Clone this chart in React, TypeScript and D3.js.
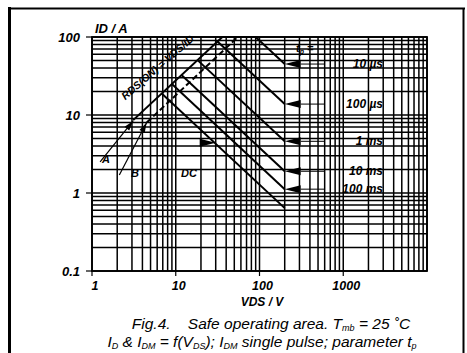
import React from "react";
import * as d3 from "d3";

const vdsTicks = [1, 10, 100, 1000];
const idTicks = [0.1, 1, 10, 100];
const pulseLabels = ["10 µs", "100 µs", "1 ms", "10 ms", "100 ms"];
const pulseIdEnd = [45, 13.8, 4.6, 1.9, 1.12];
const vdsMax = 200;
// curves as [VDS, ID] points
const rdsLineA = [[3.1, 8.6], [36, 100]];
const rdsLineB = [[4.5, 8.0], [55, 100]];
const curve10us = [[36, 100], [90, 100], [200, 45]];
const curve100us = [[31.5, 87.6], [200, 13.8]];
const curve1ms = [[18.2, 50.5], [200, 4.6]];
const curve10ms = [[11.7, 32.5], [200, 1.9]];
const curve100ms = [[9, 24.9], [200, 1.12]];
const curveDC = [[6.8, 18.9], [200, 0.64]];
const dcArrowPoint = [30, 4.4];
const pointerA = [[1.25, 2.5], [3.1, 8.4]];
const pointerB = [[2.12, 1.7], [4.5, 8.0]];

const FONT = "'Liberation Sans', Arial, sans-serif";

export default function App() {
  const x = d3.scaleLog().domain([1, 10000]).range([92, 427]);
  const y = d3.scaleLog().domain([0.1, 100]).range([271, 37]);
  const line = d3
    .line<number[]>()
    .x((d) => x(d[0]))
    .y((d) => y(d[1]));
  const xGrid = x.ticks();
  const yGrid = y.ticks();
  const curves = [curve10us, curve100us, curve1ms, curve10ms, curve100ms, curveDC];
  const xEnd = x(vdsMax);

  const arrowHead = (tx: number, ty: number, dir: number, len = 16, half = 4) =>
    `M${tx},${ty}L${tx + dir * len},${ty - half}L${tx + dir * len},${ty + half}Z`;

  const ptrHead = (p: number[][]) => {
    const [a, b] = p;
    const x1 = x(a[0]), y1 = y(a[1]), x2 = x(b[0]), y2 = y(b[1]);
    const ang = Math.atan2(y2 - y1, x2 - x1);
    const L = 10, hw = 3;
    const bx = x2 - L * Math.cos(ang), by = y2 - L * Math.sin(ang);
    const nx = -Math.sin(ang) * hw, ny = Math.cos(ang) * hw;
    return `M${x2},${y2}L${bx + nx},${by + ny}L${bx - nx},${by - ny}Z`;
  };

  return (
    <svg
      width={467}
      height={353}
      style={{ position: "absolute", left: 0, top: 0, background: "#fff" }}
      fontFamily={FONT}
    >
      <rect x={0} y={0} width={467} height={353} fill="#fff" />
      {/* outer frame */}
      <line x1={9.5} y1={7} x2={9.5} y2={353} stroke="#000" strokeWidth={3} />
      <line x1={8} y1={8.5} x2={465} y2={8.5} stroke="#000" strokeWidth={2} />
      <line x1={463.5} y1={8} x2={463.5} y2={353} stroke="#000" strokeWidth={2} />

      {/* grid */}
      {xGrid.map((v, i) => (
        <line key={"gx" + i} x1={x(v)} x2={x(v)} y1={37} y2={271} stroke="#000" strokeWidth={1.5} />
      ))}
      {yGrid.map((v, i) => (
        <line key={"gy" + i} x1={92} x2={427} y1={y(v)} y2={y(v)} stroke="#000" strokeWidth={1.5} />
      ))}
      <rect x={92} y={37} width={335} height={234} fill="none" stroke="#000" strokeWidth={1.8} />

      {/* ticks */}
      {idTicks.map((v, i) => (
        <g key={"yt" + i}>
          <line x1={86} x2={92} y1={y(v)} y2={y(v)} stroke="#000" strokeWidth={1.2} />
          <text x={80} y={y(v) + 4.5} textAnchor="end" fontSize={13} fontWeight="bold" fontStyle="italic">
            {v}
          </text>
        </g>
      ))}
      {vdsTicks.map((v, i) => (
        <g key={"xt" + i}>
          <line x1={x(v)} x2={x(v)} y1={271} y2={276} stroke="#000" strokeWidth={1.2} />
          <text x={x(v) + 3} y={290} textAnchor="middle" fontSize={12.5} fontWeight="bold" fontStyle="italic">
            {v}
          </text>
        </g>
      ))}
      <text x={95} y={33} fontSize={13} fontWeight="bold" fontStyle="italic">
        ID / A
      </text>
      <text x={262} y={306} textAnchor="middle" fontSize={12} fontWeight="bold" fontStyle="italic">
        VDS / V
      </text>

      {/* RDS lines */}
      <path d={line(rdsLineA) || ""} fill="none" stroke="#000" strokeWidth={2} />
      <path d={line(rdsLineB) || ""} fill="none" stroke="#000" strokeWidth={2} strokeDasharray="6,3" />
      {/* pulse and DC curves */}
      {curves.map((c, i) => (
        <path key={"c" + i} d={line(c) || ""} fill="none" stroke="#000" strokeWidth={2} />
      ))}

      {/* pulse arrows and labels */}
      {pulseIdEnd.map((v, i) => (
        <g key={"pa" + i}>
          <path d={arrowHead(xEnd, y(v), 1)} fill="#000" />
          <line x1={xEnd + 16} x2={xEnd + 40} y1={y(v)} y2={y(v)} stroke="#000" strokeWidth={1} />
          <text x={383} y={y(v) + 4} textAnchor="end" fontSize={12} fontWeight="bold" fontStyle="italic">
            {pulseLabels[i]}
          </text>
        </g>
      ))}
      <text x={296} y={52} fontSize={11} fontWeight="bold" fontStyle="italic">
        t<tspan fontSize={7} dy={2}>p</tspan>
        <tspan dy={-2}> =</tspan>
      </text>

      {/* DC */}
      <path d={arrowHead(x(dcArrowPoint[0]), y(dcArrowPoint[1]), -1)} fill="#000" />
      <text x={181} y={177} fontSize={11} fontWeight="bold" fontStyle="italic">
        DC
      </text>

      {/* A / B pointers */}
      <path d={line(pointerA) || ""} fill="none" stroke="#000" strokeWidth={1.2} />
      <path d={ptrHead(pointerA)} fill="#000" />
      <path d={line(pointerB) || ""} fill="none" stroke="#000" strokeWidth={1.2} />
      <path d={ptrHead(pointerB)} fill="#000" />
      <text x={102} y={163} fontSize={11} fontWeight="bold" fontStyle="italic">
        A
      </text>
      <text x={131} y={177} fontSize={11} fontWeight="bold" fontStyle="italic">
        B
      </text>

      {/* rotated RDS label */}
      <text
        transform="translate(160,70) rotate(-41)"
        textAnchor="middle"
        fontSize={10.5}
        fontWeight="bold"
        fontStyle="italic"
      >
        RDS(ON) = VDS/ID
      </text>

      {/* caption */}
      <text x={271} y={329} textAnchor="middle" fontSize={15.5} fontStyle="italic">
        Fig.4.{"\u00a0\u00a0\u00a0\u00a0"}Safe operating area. T<tspan fontSize={9} dy={2}>mb</tspan>
        <tspan dy={-2}> = 25 ˚C</tspan>
      </text>
      <text x={262} y={347} textAnchor="middle" fontSize={15.5} fontStyle="italic">
        I<tspan fontSize={9} dy={2}>D</tspan>
        <tspan dy={-2}> &amp; I</tspan>
        <tspan fontSize={9} dy={2}>DM</tspan>
        <tspan dy={-2}> = f(V</tspan>
        <tspan fontSize={9} dy={2}>DS</tspan>
        <tspan dy={-2}>); I</tspan>
        <tspan fontSize={9} dy={2}>DM</tspan>
        <tspan dy={-2}> single pulse; parameter t</tspan>
        <tspan fontSize={9} dy={2}>p</tspan>
      </text>
    </svg>
  );
}
